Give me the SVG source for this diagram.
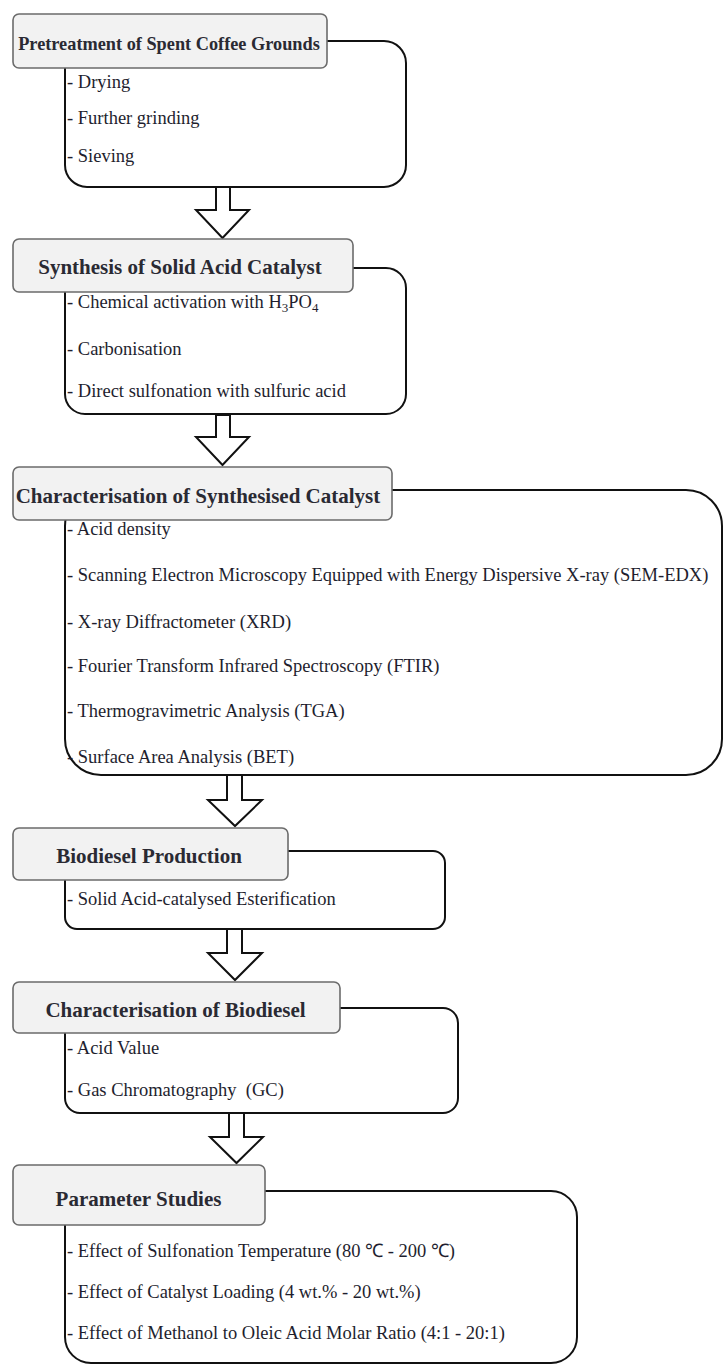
<svg xmlns="http://www.w3.org/2000/svg" width="724" height="1366" viewBox="0 0 724 1366">
<style>
.hdr{fill:#f2f2f2;stroke:#6b6b6b;stroke-width:1.6}
.body{fill:#ffffff;stroke:#111;stroke-width:2}
.ttl{font-family:"Liberation Serif","Times New Roman",serif;font-size:21px;font-weight:bold;fill:#2a2a33;text-anchor:middle}
.itm{font-family:"Liberation Serif","Times New Roman",serif;font-size:18.5px;fill:#1e1e2e}
.arr{fill:#ffffff;stroke:#111;stroke-width:2;stroke-linejoin:miter}
</style>
<rect width="724" height="1366" fill="#ffffff"/>
<g id="connectors">
<polygon class="arr" points="216,187 230,187 230,210 249,210 222.5,238 196,210 216,210"/>
<polygon class="arr" points="216,415 230,415 230,437 249,437 222.5,465 196,437 216,437"/>
<polygon class="arr" points="227,775 242,775 242,800 262,800 235,826 208,800 227,800"/>
<polygon class="arr" points="227,929 242,929 242,953 262,953 235,980 208,953 227,953"/>
<polygon class="arr" points="229,1113 244,1113 244,1137 263,1137 236.5,1163 210,1137 229,1137"/>
</g>
<g id="node1">
<rect class="body" x="65" y="41" width="341" height="146" rx="22"/>
<rect class="hdr" x="13" y="14" width="314" height="54" rx="6"/>
<text class="ttl" x="169" y="50" style="font-size:18.3px">Pretreatment of Spent Coffee Grounds</text>
<text class="itm" x="67" y="88">- Drying</text>
<text class="itm" x="67" y="124">- Further grinding</text>
<text class="itm" x="67" y="162">- Sieving</text>
</g>
<g id="node2">
<rect class="body" x="65" y="268" width="341" height="146" rx="20"/>
<rect class="hdr" x="13" y="239" width="340" height="53" rx="6"/>
<text class="ttl" x="180" y="274">Synthesis of Solid Acid Catalyst</text>
<text class="itm" x="67" y="308">- Chemical activation with H<tspan font-size="13" dy="4">3</tspan><tspan dy="-4">PO</tspan><tspan font-size="13" dy="4">4</tspan></text>
<text class="itm" x="67" y="355">- Carbonisation</text>
<text class="itm" x="67" y="397">- Direct sulfonation with sulfuric acid</text>
</g>
<g id="node3">
<rect class="body" x="65" y="490" width="657" height="285" rx="36"/>
<rect class="hdr" x="13" y="467" width="379" height="53" rx="6"/>
<text class="ttl" x="198" y="503">Characterisation of Synthesised Catalyst</text>
<text class="itm" x="67" y="535">- Acid density</text>
<text class="itm" x="67" y="581">- Scanning Electron Microscopy Equipped with Energy Dispersive X-ray (SEM-EDX)</text>
<text class="itm" x="67" y="628">- X-ray Diffractometer (XRD)</text>
<text class="itm" x="67" y="672">- Fourier Transform Infrared Spectroscopy (FTIR)</text>
<text class="itm" x="67" y="717">- Thermogravimetric Analysis (TGA)</text>
<text class="itm" x="67" y="763">- Surface Area Analysis (BET)</text>
</g>
<g id="node4">
<rect class="body" x="65" y="851" width="380" height="78" rx="12"/>
<rect class="hdr" x="13" y="828" width="275" height="52" rx="6"/>
<text class="ttl" x="149" y="863">Biodiesel Production</text>
<text class="itm" x="67" y="905">- Solid Acid-catalysed Esterification</text>
</g>
<g id="node5">
<rect class="body" x="65" y="1008" width="393" height="105" rx="15"/>
<rect class="hdr" x="13" y="982" width="327" height="51" rx="6"/>
<text class="ttl" x="175.5" y="1017">Characterisation of Biodiesel</text>
<text class="itm" x="67" y="1054">- Acid Value</text>
<text class="itm" x="67" y="1096" xml:space="preserve">- Gas Chromatography  (GC)</text>
</g>
<g id="node6">
<rect class="body" x="65" y="1191" width="512" height="172" rx="26"/>
<rect class="hdr" x="13" y="1165" width="252" height="60" rx="6"/>
<text class="ttl" x="138.5" y="1206">Parameter Studies</text>
<text class="itm" x="67" y="1257">- Effect of Sulfonation Temperature (80 ℃ - 200 ℃)</text>
<text class="itm" x="67" y="1298">- Effect of Catalyst Loading (4 wt.% - 20 wt.%)</text>
<text class="itm" x="67" y="1339">- Effect of Methanol to Oleic Acid Molar Ratio (4:1 - 20:1)</text>
</g>
</svg>
